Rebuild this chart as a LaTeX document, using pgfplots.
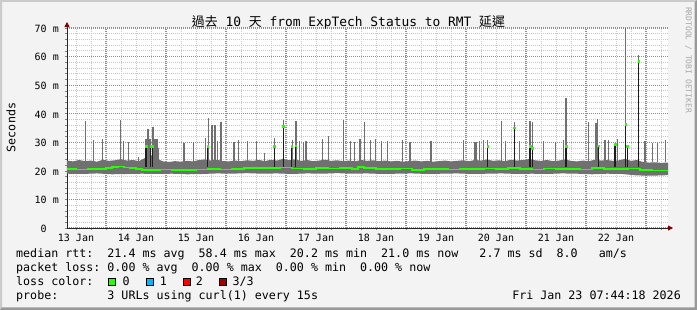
\documentclass[border=0pt]{standalone}
\usepackage{pgfplots}
\pgfplotsset{compat=1.18}
\usetikzlibrary{arrows.meta}
\usepackage{fontspec}
\setmainfont{DejaVu Sans Mono}
\newfontfamily\cjk{Noto Sans CJK TC}
\definecolor{bg}{HTML}{F3F3F3}
\definecolor{shadea}{HTML}{CBCBCB}
\definecolor{shadeb}{HTML}{999999}
\definecolor{smoke}{HTML}{707070}
\definecolor{darksmoke}{HTML}{1C1C1C}
\definecolor{med}{HTML}{26FF00}
\definecolor{mgrid}{HTML}{E26A6A}
\definecolor{mingrid}{HTML}{C8C8C8}
\definecolor{arrowred}{HTML}{7F0000}
\definecolor{lossblue}{HTML}{00B8FF}
\definecolor{lossred}{HTML}{FF0000}
\definecolor{lossdark}{HTML}{A10000}
\definecolor{wm}{HTML}{A8A8A8}
\frenchspacing
\begin{document}
\begin{tikzpicture}
\begin{scope}[x=1pt,y=1pt]
\useasboundingbox (0,0) rectangle (697,310);
\fill[bg] (0,0) rectangle (697,310);
\fill[shadea] (0,0) -- (0,310) -- (697,310) -- (695,308) -- (2,308) -- (2,2) -- cycle;
\fill[shadeb] (0,0) -- (697,0) -- (697,310) -- (694.5,307.5) -- (694.5,2.5) -- (2,2.5) -- cycle;
\fill[white] (67,82) rectangle (668,282);
\end{scope}
\begin{axis}[
  at={(67pt,82pt)}, anchor=south west, scale only axis,
  width=601pt, height=200pt,
  xmin=13.35, xmax=23.367, ymin=0, ymax=70,
  axis x line=bottom, axis y line=left,
  axis line style={draw=black!85, line width=0.8pt},
  x axis line style={-{Triangle[length=5pt,width=5pt,color=arrowred]}, shorten >=-5pt},
  y axis line style={-{Triangle[length=5pt,width=5pt,color=arrowred]}, shorten >=-6pt},
  xtick={14,15,...,23},
  xticklabels={13 Jan,14 Jan,15 Jan,16 Jan,17 Jan,18 Jan,19 Jan,20 Jan,21 Jan,22 Jan},
  minor xtick={13.5,13.75,14.25,14.5,14.75,15.25,15.5,15.75,16.25,16.5,16.75,17.25,17.5,17.75,18.25,18.5,18.75,19.25,19.5,19.75,20.25,20.5,20.75,21.25,21.5,21.75,22.25,22.5,22.75,23.25},
  ytick={0,10,...,70},
  yticklabels={{0\phantom{~m}},{10 m},{20 m},{30 m},{40 m},{50 m},{60 m},{70 m}},
  minor ytick={2,4,6,8,12,14,16,18,22,24,26,28,32,34,36,38,42,44,46,48,52,54,56,58,62,64,66,68},
  grid=both,
  major grid style={draw=mgrid, dash pattern=on 1pt off 1pt, line width=1.1pt},
  minor grid style={draw=mingrid, dash pattern=on 1pt off 1pt, line width=0.9pt},
  tick align=outside, major tick length=2pt, minor tick length=2pt,
  tick style={line width=0.5pt},
  ticklabel style={font=\fontsize{10pt}{12pt}\selectfont, inner sep=0pt},
  xticklabel style={anchor=base, yshift=-12pt, xshift=-30pt},
  yticklabel style={anchor=base east, xshift=-6pt, yshift=-4.3pt},
  unbounded coords=jump,
  clip=true,
]
% smoke band: upper edge forward, lower edge backward (ms)
\addplot[draw=none, fill=smoke] coordinates {
(13.35,23.6)(13.45,23.3)(13.55,23.8)(13.65,23.4)(13.75,23.6)(13.85,23.2)(13.95,23.9)(14.05,23.5)(14.15,23.7)(14.25,24.1)
(14.35,23.6)(14.45,23.8)(14.55,23.4)(14.65,24.5)(14.75,25.5)(14.85,24.2)(14.95,23.3)(15.05,23.1)(15.15,23.4)(15.25,23.2)
(15.35,23.5)(15.45,23.3)(15.55,23.8)(15.65,24.0)(15.75,23.6)(15.85,23.9)(15.95,23.4)(16.05,23.3)(16.15,23.6)(16.25,23.4)
(16.35,23.7)(16.45,23.5)(16.55,23.8)(16.65,23.4)(16.75,23.9)(16.85,23.6)(16.95,24.2)(17.05,23.7)(17.15,24.0)(17.25,23.5)
(17.35,23.8)(17.45,23.4)(17.55,23.6)(17.65,23.9)(17.75,23.5)(17.85,23.7)(17.95,23.4)(18.05,23.6)(18.15,23.3)(18.25,23.8)
(18.35,23.5)(18.45,23.7)(18.55,23.4)(18.65,23.6)(18.75,23.3)(18.85,23.5)(18.95,23.2)(19.05,23.4)(19.15,23.6)(19.25,23.3)
(19.35,23.5)(19.45,23.2)(19.55,23.4)(19.65,23.6)(19.75,23.3)(19.85,23.5)(19.95,23.7)(20.05,23.4)(20.15,23.8)(20.25,23.6)
(20.35,24.0)(20.45,23.5)(20.55,23.7)(20.65,23.4)(20.75,23.9)(20.85,23.6)(20.95,23.8)(21.05,24.1)(21.15,23.7)(21.25,23.5)
(21.35,23.8)(21.45,23.4)(21.55,23.6)(21.65,24.0)(21.75,23.5)(21.85,23.3)(21.95,23.6)(22.05,23.4)(22.15,23.9)(22.25,23.6)
(22.35,23.8)(22.45,23.5)(22.55,23.7)(22.65,24.2)(22.75,23.5)(22.85,23.8)(22.95,23.1)(23.05,22.9)(23.15,23.0)(23.25,22.8)(23.367,22.9)
(23.367,18.5)(23.1,18.3)(22.85,18.4)(22.6,18.9)(22.35,19.0)(22.1,18.8)(21.85,19.0)(21.6,19.1)(21.35,18.9)(21.1,19.0)
(20.85,18.9)(20.6,19.1)(20.35,19.0)(20.1,18.9)(19.85,19.1)(19.6,19.0)(19.35,18.9)(19.1,19.1)(18.85,19.0)(18.6,18.9)
(18.35,19.1)(18.1,19.0)(17.85,19.2)(17.6,19.0)(17.35,19.1)(17.1,18.9)(16.85,19.1)(16.6,19.0)(16.35,19.2)(16.1,19.0)
(15.85,19.1)(15.6,18.9)(15.35,18.8)(15.1,19.0)(14.85,18.9)(14.6,19.0)(14.35,18.9)(14.1,18.8)(13.85,19.1)(13.6,18.9)(13.35,19.0)};
% grey smoke spikes (max rtt)
\addplot[smoke, line width=1.4pt] coordinates {
(13.662,23)(13.662,37.5)(13.662,nan) (13.788,23)(13.788,30.8)(13.788,nan) (13.938,23)(13.938,31.1)(13.938,nan)
(14.238,23)(14.238,37.8)(14.238,nan) (14.288,23)(14.288,30.4)(14.288,nan) (14.372,23)(14.372,30.2)(14.372,nan)
(14.545,23)(14.545,25.0)(14.545,nan) (14.667,23)(14.667,31.3)(14.667,nan) (14.700,23)(14.700,34.6)(14.700,nan)
(14.733,23)(14.733,31.0)(14.733,nan) (14.783,23)(14.783,35.5)(14.783,nan) (14.817,23)(14.817,31.0)(14.817,nan)
(14.850,23)(14.850,31.0)(14.850,nan) (14.880,23)(14.880,28.0)(14.880,nan) (15.300,23)(15.300,29.7)(15.300,nan)
(15.462,23)(15.462,30.1)(15.462,nan) (15.662,23)(15.662,31.5)(15.662,nan) (15.705,23)(15.705,38.4)(15.705,nan)
(15.767,23)(15.767,36.0)(15.767,nan) (15.817,23)(15.817,36.0)(15.817,nan) (15.862,23)(15.862,30.4)(15.862,nan)
(15.917,23)(15.917,37.2)(15.917,nan) (16.133,23)(16.133,30.2)(16.133,nan) (16.208,23)(16.208,30.8)(16.208,nan)
(16.362,23)(16.362,30.4)(16.362,nan) (16.512,23)(16.512,30.4)(16.512,nan) (16.638,23)(16.638,26.3)(16.638,nan)
(16.805,23)(16.805,31.6)(16.805,nan) (16.955,23)(16.955,37.8)(16.955,nan) (17.105,23)(17.105,30.8)(17.105,nan)
(17.167,23)(17.167,37.5)(17.167,nan) (17.222,23)(17.222,30.5)(17.222,nan) (17.288,23)(17.288,30.2)(17.288,nan)
(17.333,23)(17.333,30.4)(17.333,nan) (17.605,23)(17.605,31.1)(17.605,nan) (17.712,23)(17.712,32.2)(17.712,nan)
(17.955,23)(17.955,37.8)(17.955,nan) (18.072,23)(18.072,30.4)(18.072,nan) (18.145,23)(18.145,30.0)(18.145,nan)
(18.233,23)(18.233,31.1)(18.233,nan) (18.305,23)(18.305,37.2)(18.305,nan) (18.412,23)(18.412,30.8)(18.412,nan)
(18.488,23)(18.488,31.0)(18.488,nan) (18.595,23)(18.595,30.5)(18.595,nan) (18.688,23)(18.688,30.4)(18.688,nan)
(18.938,23)(18.938,30.8)(18.938,nan) (19.067,23)(19.067,30.2)(19.067,nan) (19.417,23)(19.417,30.4)(19.417,nan)
(19.962,23)(19.962,30.8)(19.962,nan) (20.150,23)(20.150,30.0)(20.150,nan) (20.167,23)(20.167,30.0)(20.167,nan)
(20.222,23)(20.222,30.4)(20.222,nan) (20.288,23)(20.288,30.8)(20.288,nan) (20.362,23)(20.362,30.8)(20.362,nan)
(20.588,23)(20.588,37.4)(20.588,nan) (20.662,23)(20.662,30.4)(20.662,nan) (20.805,23)(20.805,37.2)(20.805,nan)
(20.888,23)(20.888,30.4)(20.888,nan) (21.067,23)(21.067,37.4)(21.067,nan) (21.105,23)(21.105,37.2)(21.105,nan)
(21.288,23)(21.288,30.4)(21.288,nan) (21.488,23)(21.488,30.2)(21.488,nan) (21.622,23)(21.622,30.8)(21.622,nan)
(21.667,23)(21.667,45.6)(21.667,nan) (22.045,23)(22.045,37.1)(22.045,nan) (22.167,23)(22.167,36.6)(22.167,nan)
(22.188,23)(22.188,38.2)(22.188,nan) (22.317,23)(22.317,30.8)(22.317,nan) (22.372,23)(22.372,30.8)(22.372,nan)
(22.483,23)(22.483,29.3)(22.483,nan) (22.522,23)(22.522,31.2)(22.522,nan) (22.662,23)(22.662,70.0)(22.662,nan)
(22.878,23)(22.878,60.5)(22.878,nan) (22.983,23)(22.983,30.4)(22.983,nan) (23.105,23)(23.105,29.7)(23.105,nan)
(23.195,23)(23.195,29.7)(23.195,nan) (23.322,23)(23.322,30.8)(23.322,nan)};
% dark smoke where the median rises
\addplot[darksmoke, line width=1.4pt] coordinates {
(14.667,21.5)(14.667,28.5)(14.667,nan) (14.745,21.5)(14.745,28.5)(14.745,nan) (14.772,21.5)(14.772,28.5)(14.772,nan)
(15.695,21.5)(15.695,28.5)(15.695,nan) (16.805,21.5)(16.805,28.5)(16.805,nan) (16.955,21.5)(16.955,35.5)(16.955,nan)
(17.095,21.5)(17.095,28.5)(17.095,nan) (17.162,21.5)(17.162,28.8)(17.162,nan) (20.362,21.5)(20.362,28.5)(20.362,nan)
(20.805,21.5)(20.805,35.1)(20.805,nan) (21.067,21.5)(21.067,28.5)(21.067,nan) (21.105,21.5)(21.105,28.0)(21.105,nan)
(21.667,21.5)(21.667,28.5)(21.667,nan) (22.205,21.5)(22.205,28.8)(22.205,nan) (22.483,21.5)(22.483,29.3)(22.483,nan)
(22.662,21.5)(22.662,36.3)(22.662,nan) (22.688,21.5)(22.688,28.7)(22.688,nan) (22.878,21.5)(22.878,58.4)(22.878,nan)};
% median rtt
\addplot[med, line width=1.6pt, const plot] coordinates {
(13.35,20.6)(13.5,20.5)(13.7,20.7)(13.9,20.6)(14.0,20.9)(14.1,21.3)(14.2,21.5)(14.3,21.2)(14.4,20.9)(14.5,20.6)
(14.6,20.4)(14.75,20.3)(14.9,20.5)(15.1,20.3)(15.3,20.4)(15.5,20.5)(15.7,20.6)(15.9,20.5)(16.1,20.7)(16.3,21.0)
(16.5,21.1)(16.7,20.9)(16.9,21.2)(17.1,20.8)(17.3,20.6)(17.5,20.9)(17.7,20.8)(17.9,20.9)(18.1,20.7)(18.2,21.4)
(18.3,20.9)(18.5,20.7)(18.7,20.6)(18.9,20.8)(19.1,20.4)(19.3,20.7)(19.5,20.6)(19.7,20.5)(19.9,20.7)(20.1,20.6)
(20.3,20.8)(20.5,20.6)(20.7,20.9)(20.9,20.7)(21.1,20.5)(21.3,20.8)(21.5,20.6)(21.7,20.7)(21.9,20.5)(22.1,20.9)
(22.3,20.7)(22.5,20.6)(22.7,20.8)(22.9,20.3)(23.1,20.1)(23.367,20.4)};
\addplot[only marks, mark=square*, mark size=0.9pt, color=med] coordinates {
(14.667,28.5)(14.745,28.5)(14.772,28.5)(15.695,28.5)(16.805,28.5)(16.955,35.5)(17.095,28.5)(17.162,28.8)(20.362,28.5)
(20.805,35.1)(21.067,28.5)(21.105,28.0)(21.667,28.5)(22.205,28.8)(22.483,29.3)(22.662,36.3)(22.688,28.7)(22.878,58.4)};
\end{axis}
\begin{scope}[x=1pt,y=1pt]
% title and side texts
\node[anchor=base, inner sep=0pt] at (348.5,283.3) {\fontsize{12.9pt}{15pt}\selectfont{\cjk 過去} 10 {\cjk 天} from ExpTech Status to RMT {\cjk 延遲}};
\node[rotate=90, inner sep=0pt] at (11,182.5) {\fontsize{11.66pt}{14pt}\selectfont Seconds};
\node[rotate=-90, inner sep=0pt, text=wm] at (688.5,250) {\fontsize{8pt}{10pt}\selectfont RRDTOOL / TOBI OETIKER};
% legend
\begin{scope}[every node/.style={anchor=base west, inner sep=0pt, font=\fontsize{11.66pt}{14pt}\selectfont}]
\node at (16,52.3) {median rtt:~~21.4 ms avg~~58.4 ms max~~20.2 ms min~~21.0 ms now~~~2.7 ms sd~~8.0~~~am/s};
\node at (16,38.3) {packet loss: 0.00 \% avg~~0.00 \% max~~0.00 \% min~~0.00 \% now};
\node at (16,24.5) {loss color:};
\node at (16,10.7) {probe:~~~~~~~3 URLs using curl(1) every 15s};
\node[anchor=base east] at (681,10.7) {Fri Jan 23 07:44:18 2026};
\node at (122.3,24.5) {0};
\node at (159.7,24.5) {1};
\node at (195.7,24.5) {2};
\node at (232.3,24.5) {3/3};
\end{scope}
\draw[black, line width=0.6pt, fill=med] (108.5,24.2) rectangle (115.5,31.8);
\draw[black, line width=0.6pt, fill=lossblue] (146,24.2) rectangle (153,31.8);
\draw[black, line width=0.6pt, fill=lossred] (183,24.2) rectangle (190,31.8);
\draw[black, line width=0.6pt, fill=lossdark] (219.5,24.2) rectangle (226.5,31.8);
\end{scope}
\end{tikzpicture}
\end{document}
